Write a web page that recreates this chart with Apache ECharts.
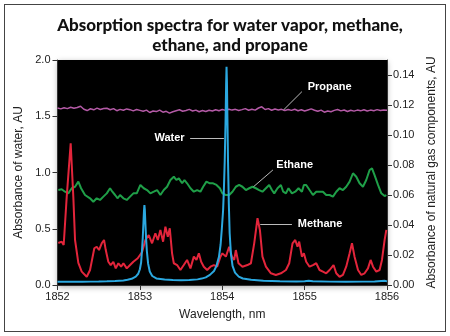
<!DOCTYPE html>
<html><head><meta charset="utf-8">
<script src="https://cdn.jsdelivr.net/npm/echarts@6/dist/echarts.min.js"></script>
<style>html,body{margin:0;padding:0;background:#fff}#wrap{position:relative;width:450px;height:336px}#c{width:450px;height:336px}
#frame{position:absolute;left:4px;top:4px;width:440px;height:326px;border:1.5px solid #444;pointer-events:none}</style>
</head><body><div id="wrap"><div id="c"></div><div id="frame"></div></div>
<script>
// ---- data ----
const xTicks = [1852, 1853, 1854, 1855, 1856];
const leftTicks = [0, 0.5, 1.0, 1.5, 2.0];
const rightTicks = [0, 0.02, 0.04, 0.06, 0.08, 0.10, 0.12, 0.14];

// Water (left axis, AU)
const water = [
 [1852.00,0.028],[1852.10,0.028],[1852.20,0.029],[1852.30,0.029],[1852.40,0.030],[1852.50,0.031],
 [1852.60,0.033],[1852.70,0.036],[1852.80,0.041],[1852.85,0.046],[1852.90,0.055],[1852.95,0.075],
 [1852.98,0.10],[1853.00,0.14],[1853.015,0.20],[1853.025,0.30],[1853.035,0.42],[1853.045,0.58],
 [1853.05,0.66],[1853.055,0.71],[1853.06,0.67],[1853.065,0.58],[1853.075,0.42],[1853.085,0.30],
 [1853.10,0.19],[1853.12,0.12],[1853.15,0.08],[1853.20,0.058],[1853.30,0.048],[1853.40,0.044],
 [1853.50,0.043],[1853.60,0.045],[1853.70,0.05],[1853.75,0.057],[1853.80,0.068],[1853.85,0.09],
 [1853.90,0.125],[1853.93,0.17],[1853.96,0.25],[1853.98,0.36],[1853.995,0.50],[1854.01,0.66],
 [1854.02,0.85],[1854.03,1.10],[1854.04,1.45],[1854.047,1.78],[1854.052,1.94],[1854.057,1.80],
 [1854.063,1.47],[1854.07,1.10],[1854.08,0.72],[1854.09,0.46],[1854.105,0.28],[1854.125,0.17],
 [1854.155,0.11],[1854.20,0.075],[1854.25,0.058],[1854.35,0.046],[1854.50,0.038],[1854.70,0.034],
 [1854.90,0.032],[1855.00,0.033],[1855.05,0.038],[1855.10,0.034],[1855.30,0.030],[1855.50,0.029],
 [1855.70,0.030],[1855.85,0.031],[1855.93,0.036],[1855.97,0.038],[1856.00,0.032]
];

// Methane (right axis, AU)
const methane = [
 [1852.010,0.0280],[1852.051,0.0289],[1852.075,0.0267],[1852.112,0.0589],[1852.160,0.0945],
 [1852.192,0.0589],[1852.213,0.0300],[1852.253,0.0147],[1852.294,0.0089],[1852.355,0.0055],
 [1852.395,0.0100],[1852.447,0.0245],[1852.476,0.0255],[1852.504,0.0233],[1852.537,0.0278],
 [1852.565,0.0300],[1852.586,0.0233],[1852.617,0.0155],[1852.646,0.0133],[1852.678,0.0155],
 [1852.707,0.0111],[1852.739,0.0145],[1852.772,0.0122],[1852.800,0.0145],[1852.841,0.0111],
 [1852.881,0.0133],[1852.921,0.0155],[1852.974,0.0178],[1853.027,0.0220],[1853.067,0.0300],
 [1853.108,0.0333],[1853.148,0.0278],[1853.188,0.0345],[1853.218,0.0300],[1853.249,0.0367],
 [1853.282,0.0289],[1853.310,0.0389],[1853.339,0.0322],[1853.363,0.0378],[1853.391,0.0211],
 [1853.412,0.0145],[1853.452,0.0133],[1853.492,0.0100],[1853.533,0.0133],[1853.573,0.0167],
 [1853.614,0.0111],[1853.655,0.0189],[1853.687,0.0167],[1853.716,0.0211],[1853.744,0.0155],
 [1853.776,0.0122],[1853.817,0.0100],[1853.857,0.0122],[1853.898,0.0133],[1853.938,0.0122],
 [1853.978,0.0189],[1854.002,0.0211],[1854.044,0.0189],[1854.084,0.0255],[1854.117,0.0189],
 [1854.145,0.0167],[1854.165,0.0233],[1854.197,0.0145],[1854.245,0.0122],[1854.306,0.0133],
 [1854.348,0.0145],[1854.388,0.0278],[1854.428,0.0445],[1854.457,0.0367],[1854.488,0.0189],
 [1854.530,0.0122],[1854.591,0.0078],[1854.651,0.0067],[1854.712,0.0078],[1854.773,0.0100],
 [1854.813,0.0145],[1854.853,0.0278],[1854.886,0.0300],[1854.914,0.0255],[1854.934,0.0289],
 [1854.967,0.0189],[1854.991,0.0211],[1855.019,0.0155],[1855.060,0.0122],[1855.101,0.0133],
 [1855.141,0.0145],[1855.181,0.0100],[1855.222,0.0089],[1855.262,0.0078],[1855.303,0.0100],
 [1855.351,0.0133],[1855.384,0.0078],[1855.424,0.0055],[1855.465,0.0067],[1855.505,0.0122],
 [1855.546,0.0211],[1855.575,0.0278],[1855.606,0.0189],[1855.648,0.0100],[1855.688,0.0067],
 [1855.728,0.0078],[1855.769,0.0111],[1855.801,0.0167],[1855.830,0.0122],[1855.870,0.0089],
 [1855.910,0.0100],[1855.939,0.0167],[1855.971,0.0300],[1855.992,0.0367]
];

// Ethane (right axis, AU)
const ethane = [
 [1852.010,0.0633],[1852.051,0.0638],[1852.091,0.0622],[1852.131,0.0611],[1852.173,0.0645],
 [1852.213,0.0655],[1852.253,0.0689],[1852.286,0.0645],[1852.334,0.0600],[1852.395,0.0578],
 [1852.435,0.0555],[1852.476,0.0578],[1852.516,0.0567],[1852.557,0.0589],[1852.598,0.0611],
 [1852.638,0.0645],[1852.666,0.0622],[1852.699,0.0600],[1852.731,0.0578],[1852.759,0.0600],
 [1852.800,0.0578],[1852.841,0.0567],[1852.881,0.0589],[1852.921,0.0611],[1852.962,0.0611],
 [1853.006,0.0667],[1853.047,0.0645],[1853.087,0.0633],[1853.128,0.0611],[1853.169,0.0622],
 [1853.209,0.0633],[1853.249,0.0600],[1853.290,0.0633],[1853.330,0.0655],[1853.371,0.0700],
 [1853.412,0.0722],[1853.443,0.0700],[1853.473,0.0711],[1853.513,0.0678],[1853.541,0.0700],
 [1853.573,0.0678],[1853.614,0.0645],[1853.655,0.0622],[1853.695,0.0633],[1853.735,0.0622],
 [1853.768,0.0655],[1853.808,0.0689],[1853.849,0.0678],[1853.889,0.0678],[1853.930,0.0667],
 [1853.971,0.0645],[1854.002,0.0611],[1854.044,0.0600],[1854.084,0.0600],[1854.124,0.0622],
 [1854.165,0.0655],[1854.205,0.0667],[1854.245,0.0655],[1854.287,0.0633],[1854.327,0.0645],
 [1854.367,0.0655],[1854.408,0.0645],[1854.448,0.0633],[1854.488,0.0622],[1854.530,0.0645],
 [1854.570,0.0667],[1854.603,0.0633],[1854.631,0.0611],[1854.671,0.0645],[1854.712,0.0667],
 [1854.740,0.0622],[1854.773,0.0611],[1854.804,0.0645],[1854.846,0.0611],[1854.886,0.0622],
 [1854.926,0.0645],[1854.967,0.0622],[1854.991,0.0667],[1855.019,0.0667],[1855.060,0.0633],
 [1855.101,0.0600],[1855.141,0.0622],[1855.181,0.0622],[1855.222,0.0622],[1855.262,0.0600],
 [1855.303,0.0600],[1855.344,0.0589],[1855.384,0.0622],[1855.424,0.0645],[1855.465,0.0633],
 [1855.505,0.0655],[1855.546,0.0689],[1855.587,0.0745],[1855.627,0.0722],[1855.667,0.0678],
 [1855.708,0.0655],[1855.748,0.0700],[1855.789,0.0767],[1855.818,0.0778],[1855.849,0.0733],
 [1855.891,0.0667],[1855.931,0.0611],[1855.971,0.0593],[1855.992,0.0600]
];

// Propane (right axis, AU), sampled every 0.04 nm from 1852
const propaneStart = 1852, propaneStep = 0.04;
const propaneValues = [
 0.1180,0.1174,0.1182,0.1176,0.1185,0.1178,0.1183,0.1192,0.1172,0.1163,
 0.1175,0.1168,0.1179,0.1170,0.1177,0.1178,0.1168,0.1176,0.1162,0.1171,
 0.1165,0.1174,0.1169,0.1161,0.1170,0.1164,0.1158,0.1166,0.1150,0.1160,
 0.1156,0.1166,0.1152,0.1158,0.1146,0.1155,0.1162,0.1168,0.1158,0.1163,
 0.1171,0.1160,0.1166,0.1155,0.1163,0.1157,0.1165,0.1160,0.1168,0.1162,
 0.1170,0.1164,0.1172,0.1166,0.1171,0.1163,0.1169,0.1176,0.1165,0.1172,
 0.1166,0.1180,0.1188,0.1170,0.1176,0.1165,0.1173,0.1167,0.1171,0.1163,
 0.1170,0.1164,0.1172,0.1162,0.1168,0.1160,0.1167,0.1174,0.1165,0.1158,
 0.1166,0.1152,0.1160,0.1155,0.1164,0.1170,0.1161,0.1167,0.1157,0.1165,
 0.1159,0.1166,0.1161,0.1168,0.1160,0.1166,0.1162,0.1169,0.1163,0.1167,
 0.1165
];
const propane = propaneValues.map((v, i) => [+(propaneStart + i * propaneStep).toFixed(2), v]);

// ---- chart ----
const chart = echarts.init(document.getElementById('c'), null, {renderer: 'canvas'});
const lblFont = 'Liberation Sans';
const tagLabel = (txt, pos) => ({show: true, formatter: txt, position: pos, distance: 3,
  color: '#fff', fontWeight: 'bold', fontSize: 11, fontFamily: lblFont});
const leader = {color: '#bbb', width: 1, type: 'solid'};

chart.setOption({
  animation: false,
  backgroundColor: '#fff',
  title: {
    text: 'Absorption spectra for water vapor, methane,\nethane, and propane',
    left: 225, top: 11, textAlign: 'center',
    textStyle: {fontFamily: 'Lato', fontWeight: 900, fontSize: 17, lineHeight: 20, color: '#111', align: 'center'}
  },
  grid: {left: 57.5, right: 63, top: 60, bottom: 51, show: true, backgroundColor: '#000',
    borderWidth: 0, shadowBlur: 6, shadowColor: 'rgba(0,0,0,0.35)', shadowOffsetY: 2},
  xAxis: {
    type: 'value', min: xTicks[0], max: xTicks[xTicks.length - 1], interval: 1,
    name: 'Wavelength, nm', nameLocation: 'middle', nameGap: 24,
    nameTextStyle: {fontFamily: lblFont, fontSize: 12, color: '#222'},
    axisLine: {lineStyle: {color: '#333', width: 1}},
    axisTick: {show: true, length: 5, lineStyle: {color: '#333'}},
    axisLabel: {fontFamily: lblFont, fontSize: 11, color: '#222', margin: 6,
      formatter: v => String(v)},
    splitLine: {show: false}
  },
  yAxis: [{
    type: 'value', min: leftTicks[0], max: leftTicks[leftTicks.length - 1], interval: 0.5,
    position: 'left',
    name: 'Absorbance of water, AU', nameLocation: 'middle', nameGap: 31, nameRotate: 90,
    nameTextStyle: {fontFamily: lblFont, fontSize: 12, color: '#222'},
    axisLine: {show: true, lineStyle: {color: '#333'}},
    axisTick: {show: true, length: 5, lineStyle: {color: '#333'}},
    axisLabel: {fontFamily: lblFont, fontSize: 11, color: '#222', margin: 7,
      formatter: v => v.toFixed(1)},
    splitLine: {show: false}
  }, {
    type: 'value', min: rightTicks[0], max: 0.15, interval: 0.02,
    position: 'right',
    name: 'Absorbance of natural gas components, AU', nameLocation: 'middle', nameGap: 38, nameRotate: 90,
    nameTextStyle: {fontFamily: lblFont, fontSize: 12, color: '#222'},
    axisLine: {show: true, lineStyle: {color: '#333'}},
    axisTick: {show: true, length: 5, lineStyle: {color: '#333'}},
    axisLabel: {fontFamily: lblFont, fontSize: 11, color: '#222', margin: 6, showMaxLabel: false,
      formatter: v => (rightTicks.some(t => Math.abs(t - v) < 1e-9) ? v.toFixed(2) : '')},
    splitLine: {show: false}
  }],
  series: [{
    name: 'Propane', type: 'line', yAxisIndex: 1, data: propane, showSymbol: false, symbol: 'none',
    lineStyle: {color: '#b45aa6', width: 1.5},
    markLine: {silent: true, symbol: 'none', label: {show: false}, lineStyle: leader,
      data: [[{coord: [1854.744, 0.1167]}, {coord: [1854.967, 0.1289]}]]},
    markPoint: {silent: true, symbol: 'circle', symbolSize: 0,
      data: [{coord: [1855.0, 0.1318], label: tagLabel('Propane', 'right')}]}
  }, {
    name: 'Ethane', type: 'line', yAxisIndex: 1, data: ethane, showSymbol: false, symbol: 'none',
    lineStyle: {color: '#1f9f48', width: 2},
    markLine: {silent: true, symbol: 'none', label: {show: false}, lineStyle: leader,
      data: [[{coord: [1854.379, 0.0655]}, {coord: [1854.615, 0.0767]}]]},
    markPoint: {silent: true, symbol: 'circle', symbolSize: 0,
      data: [{coord: [1854.62, 0.0800], label: tagLabel('Ethane', 'right')}]}
  }, {
    name: 'Methane', type: 'line', yAxisIndex: 1, data: methane, showSymbol: false, symbol: 'none',
    lineStyle: {color: '#e3253b', width: 2},
    markLine: {silent: true, symbol: 'none', label: {show: false}, lineStyle: leader,
      data: [[{coord: [1854.461, 0.0405]}, {coord: [1854.846, 0.0405]}]]},
    markPoint: {silent: true, symbol: 'circle', symbolSize: 0,
      data: [{coord: [1854.88, 0.0405], label: tagLabel('Methane', 'right')}]}
  }, {
    name: 'Water', type: 'line', yAxisIndex: 0, data: water, showSymbol: false, symbol: 'none',
    lineStyle: {color: '#2ba8e0', width: 2},
    markLine: {silent: true, symbol: 'none', label: {show: false}, lineStyle: leader,
      data: [[{coord: [1853.61, 1.304]}, {coord: [1854.02, 1.304]}]]},
    markPoint: {silent: true, symbol: 'circle', symbolSize: 0,
      data: [{coord: [1853.58, 1.304], label: tagLabel('Water', 'left')}]}
  }]
});
</script></body></html>
